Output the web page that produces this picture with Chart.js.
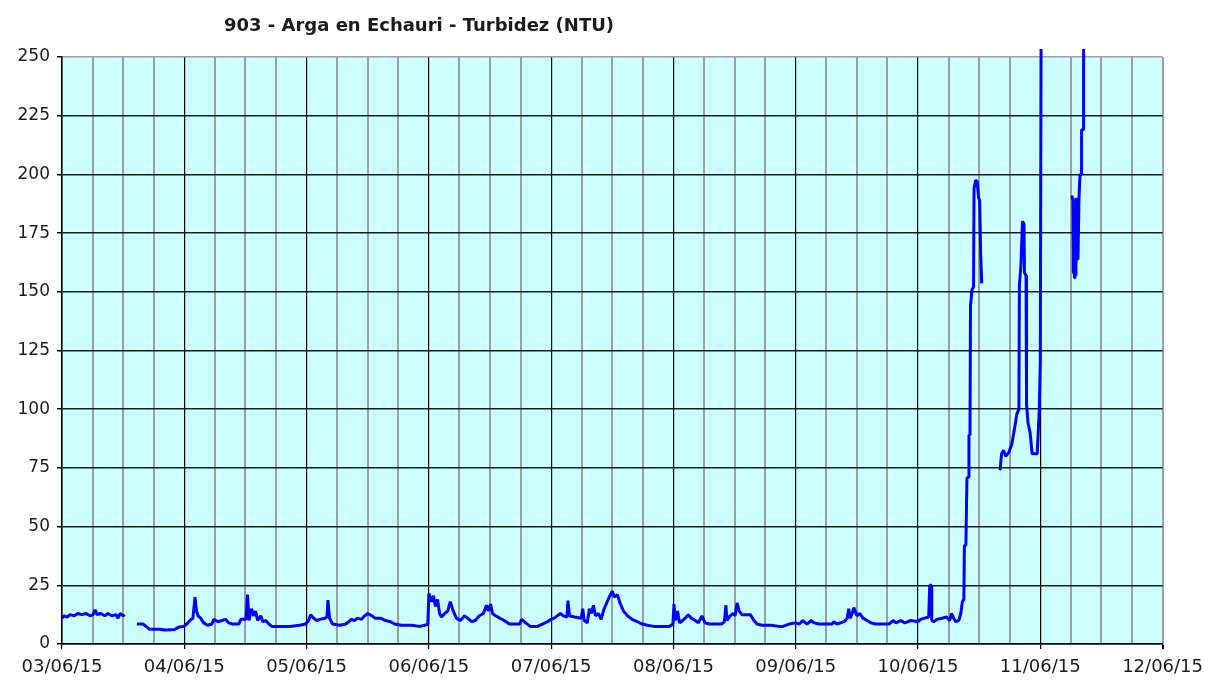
<!DOCTYPE html>
<html lang="es">
<head>
  <meta charset="UTF-8">
  <title>903 - Arga en Echauri - Turbidez (NTU)</title>
  <script src="https://cdn.jsdelivr.net/npm/chart.js"></script>
  <style>
    body {
      margin: 0;
      background: #fff;
    }
    #wrap {
      width: 1211px;
      height: 682px;
    }
  </style>
</head>
<body>

<div id="wrap"><canvas id="turbChart"></canvas></div>

<script>
const TITLE = "903 - Arga en Echauri - Turbidez (NTU)";

// day labels, one per 24 h
const dayLabels = ["03/06/15", "04/06/15", "05/06/15", "06/06/15", "07/06/15",
                   "08/06/15", "09/06/15", "10/06/15", "11/06/15", "12/06/15"];

// hours since 03/06/15 00:00
const hours = [
  0, 0.4, 1.0, 1.6, 2.4, 3.1, 3.9, 4.7, 5.5, 6.1, 6.5, 6.9, 7.6, 8.4, 9.0, 9.8, 10.6, 11.0, 11.4, 12.0, 12.3,
  13.5,
  14.7, 15.9, 16.5, 17.2, 19.2, 20.2, 22.1, 22.9, 23.9, 24.5, 25.1, 25.7, 26.1, 26.4, 26.7, 27.2, 27.8, 28.6,
  29.4, 29.8, 30.6, 31.4, 32.1, 32.7, 33.5, 34.7, 35.1, 36.1, 36.4, 36.7, 37.2, 37.6, 38.0, 38.4, 39.0, 39.4,
  40.0, 40.6, 41.2, 44.7, 46.6, 47.8, 48.4, 48.8, 49.4, 50.0, 50.6, 51.6, 52.0, 52.2, 52.5, 53.1, 54.5, 55.7,
  56.3, 56.8, 57.4, 58.0, 58.8, 59.4, 60.0, 60.8, 61.5, 62.5, 63.5, 64.5, 65.3, 66.6, 68.6, 70.2, 71.2, 71.8,
  72.0, 72.5, 72.9, 73.3, 73.7, 74.1, 74.5, 75.1, 75.7, 76.2, 76.8, 77.4, 78.2, 79.0, 79.6, 80.4, 81.1, 81.9,
  82.7, 83.3, 83.7, 84.1, 84.5, 85.1, 85.9, 86.8, 87.8, 89.8, 90.2, 91.0, 91.9, 93.3, 94.3, 95.3, 96.0, 96.6,
  97.2, 97.8, 98.4, 99.1, 99.3, 99.6, 100.6, 101.9, 102.2, 102.5, 103.1, 103.5, 103.9, 104.3, 104.7, 105.3,
  105.8, 106.4, 107.0, 107.4, 108.0, 108.4, 109.0, 109.6, 110.2, 111.0, 111.9, 112.9, 113.9, 114.9, 116.2,
  119.2, 119.9, 120.1, 120.4, 120.8, 121.2, 121.8, 122.3, 122.9, 123.5, 124.3, 124.9, 125.6, 126.2, 127.0,
  129.4, 130.0, 130.3, 130.5, 131.1, 131.7, 132.1, 132.5, 132.9, 133.5, 135.1, 135.8, 136.4, 137.4, 139.2,
  140.7, 141.5, 142.7, 143.9, 144.7, 145.4, 146.2, 147.0, 147.6, 148.6, 151.1, 151.5, 152.1, 153.5, 154.1,
  154.4, 154.7, 155.1, 155.4, 156.0, 156.6, 157.2, 158.0, 158.8, 159.7, 162.3, 163.1, 163.7, 164.6, 165.4,
  166.6, 168.0, 168.5, 169.3, 170.1, 170.3, 170.6, 170.7, 171.1, 171.7, 172.7, 173.6, 174.2, 174.6, 175.0,
  175.4, 176.0, 176.4, 176.7, 177.0, 177.1, 177.4, 177.6, 177.9, 178.0, 178.2, 178.3, 178.6, 178.9, 179.0,
  179.3, 179.6, 179.9, 180.1, 180.3, 180.5,
  181.5,
  184.1, 184.4, 184.8, 185.2, 185.8, 186.4, 187.0, 187.4, 187.8, 187.9, 188.2, 188.5, 188.8, 188.9, 189.2,
  189.3, 189.6, 190.0, 190.4, 191.4, 191.8, 192.0, 192.2,
  193.0,
  198.2, 198.4, 198.5, 198.6, 198.7, 198.8, 198.9, 199.0, 199.1, 199.4, 199.6, 199.8, 200.0, 200.1, 200.4, 200.5
];

// turbidez NTU (null = sin datos)
const ntu = [
  11, 12, 11.5, 12.5, 12, 13, 12.5, 13, 12, 12.5, 14.5, 12.5, 13, 12, 13, 12, 12.5, 11, 13, 12, 12.5,
  null,
  8.5, 8.5, 7.5, 6.3, 6.3, 6, 6.2, 7.2, 7.5, 8.5, 10, 11, 20, 14, 12, 11, 9, 8,
  8.5, 10.5, 9.5, 10, 10.5, 9, 8.5, 8.5, 10.5, 10.5, 21, 10, 15, 12, 14, 10, 12, 9.5,
  10, 8.5, 7.5, 7.5, 8, 8.5, 10, 12.5, 11, 10, 10.5, 11, 11.5, 18.7, 11, 8.5, 8, 8.5,
  9.5, 10.5, 10, 11, 10.5, 12, 13, 12, 11, 11, 10, 9.5, 8.5, 8, 8, 7.5, 8, 8.5,
  21.5, 18, 20.5, 16, 19, 13, 11.5, 13, 14, 18, 14, 11, 10, 12, 11, 9.5, 10, 12,
  13, 16.5, 14, 17, 13, 12, 11, 10, 8.5, 8.5, 10.5, 9, 7.5, 7.5, 8.5, 9.5, 10.5, 11,
  12, 13, 12, 11.5, 18.5, 12, 11.5, 11, 15, 10, 9, 15, 13, 16.5, 12, 13,
  10.5, 15, 18, 20, 22.5, 20, 21, 17, 14, 12, 10.5, 9.5, 8.5, 8, 7.5,
  7.5, 8.5, 17, 10, 14, 9, 10, 11, 12.5, 11, 10, 9, 12, 9, 8.5,
  8.5, 9.5, 16.5, 10, 12, 13, 12, 17.5, 14, 12.5, 12.5, 10, 8.5, 8, 8,
  7.5, 7.5, 8.5, 9, 8.5, 10, 8.5, 10, 9, 8.5, 8.5, 9.5, 8.5, 9.5, 11,
  15, 11, 13, 15.5, 12, 13, 11, 10, 9, 8.5, 8.5, 10, 9, 10, 9,
  10, 9.5, 10.5, 11, 11.5, 25, 25, 10, 9.5, 10.5, 11, 11.5, 10, 13, 11,
  9.5, 10, 13, 18, 19, 42, 42, 70.6, 71, 89, 89, 144, 151, 152, 194,
  197.5, 197, 190, 189, 166, 153.6,
  null,
  74, 81, 82.5, 80, 81.5, 85, 92.5, 98, 100, 153, 161, 180, 179, 158, 157,
  102, 94, 90, 81, 81, 100, 120, 300,
  null,
  191, 189, 158, 186, 156, 182, 157, 190, 164, 164, 190, 200, 200, 219, 219, 300
];

const X_MAX = (dayLabels.length - 1) * 24;
const Y_MAX = 250;

// fondo cian del area de trazado + titulo
const plotBg = {
  id: 'plotBg',
  beforeDraw(chart) {
    const a = chart.chartArea;
    const ctx = chart.ctx;
    ctx.save();
    ctx.fillStyle = '#ccffff';
    ctx.fillRect(a.left, a.top, a.right - a.left, a.bottom - a.top);
    ctx.restore();
  },
  afterDraw(chart) {
    const ctx = chart.ctx;
    ctx.save();
    ctx.font = 'bold 18px "DejaVu Sans", Verdana, sans-serif';
    ctx.fillStyle = '#1a1a1a';
    ctx.textAlign = 'center';
    ctx.textBaseline = 'middle';
    ctx.fillText(TITLE, 419, 26);
    ctx.restore();
  }
};

const ctx = document.getElementById('turbChart').getContext('2d');
new Chart(ctx, {
  type: 'line',
  data: {
    datasets: [{
      label: TITLE,
      data: hours.map((h, i) => ({ x: h, y: ntu[i] })),
      borderColor: '#0000ff',
      borderWidth: 3,
      borderJoinStyle: 'bevel',
      borderCapStyle: 'butt',
      pointRadius: 0,
      tension: 0,
      spanGaps: false,
      clip: { left: 0, top: 8, right: 0, bottom: 0 }
    }]
  },
  options: {
    responsive: true,
    maintainAspectRatio: false,
    animation: false,
    layout: { padding: { top: 57, right: 47, left: 0, bottom: 0 } },
    plugins: {
      legend: { display: false },
      tooltip: { enabled: false },
      title: { display: false }
    },
    scales: {
      x: {
        type: 'linear',
        min: 0,
        max: X_MAX,
        afterFit: s => { s.height = 38; },
        ticks: {
          stepSize: 6,
          autoSkip: false,
          maxRotation: 0,
          padding: 8,
          color: '#1a1a1a',
          font: { family: '"DejaVu Sans", Verdana, sans-serif', size: 18 },
          callback: v => (v % 24 === 0 ? dayLabels[v / 24] : '')
        },
        grid: {
          color: c => {
            const v = c.tick.value;
            if (v === X_MAX) return '#9e9e9e';
            return v % 24 === 0 ? '#000000' : '#9e9e9e';
          },
          lineWidth: c => (c.tick.value % 24 === 0 && c.tick.value !== X_MAX ? 1.2 : 2),
          tickLength: 5,
          tickColor: c => (c.tick.value % 24 === 0 ? '#000000' : 'rgba(0,0,0,0)')
        },
        border: { color: '#000000', width: 1.5 }
      },
      y: {
        min: 0,
        max: Y_MAX,
        afterFit: s => { s.width = 62; },
        ticks: {
          stepSize: 25,
          padding: 7,
          color: '#1a1a1a',
          font: { family: '"DejaVu Sans", Verdana, sans-serif', size: 17 }
        },
        grid: {
          color: c => (c.tick.value === Y_MAX ? '#9e9e9e' : '#1a1a1a'),
          lineWidth: 1.5,
          tickLength: 5,
          tickColor: '#000000'
        },
        border: { color: '#000000', width: 1.5 }
      }
    }
  },
  plugins: [plotBg]
});
</script>

</body>
</html>
